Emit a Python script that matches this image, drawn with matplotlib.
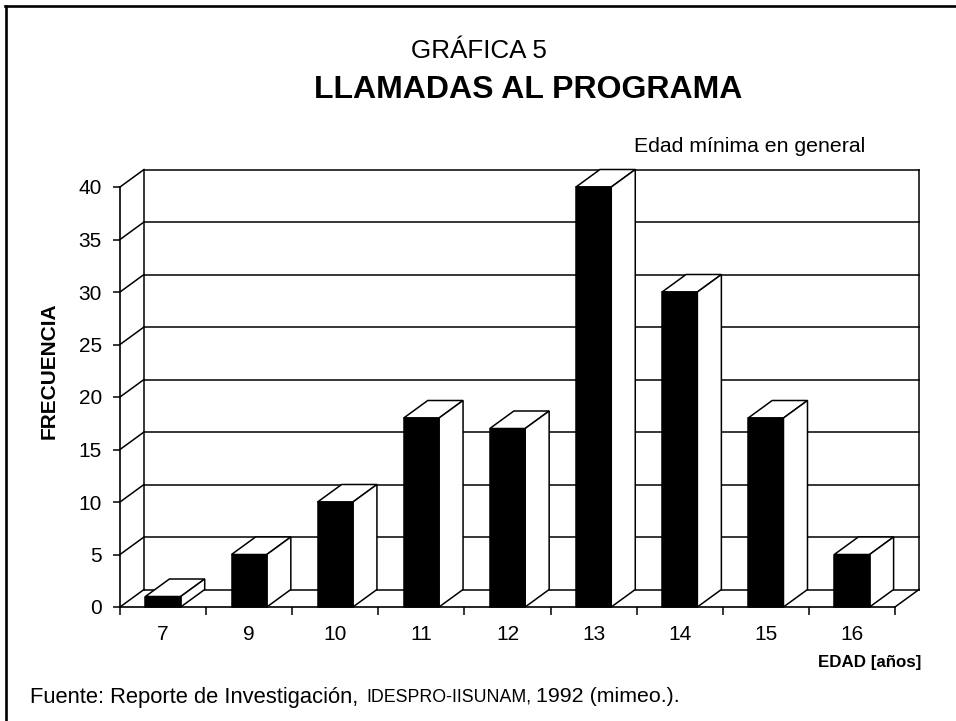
import matplotlib
matplotlib.use("Agg")
import matplotlib.pyplot as plt
from matplotlib.patches import Polygon, Rectangle

plt.rcParams['font.family'] = ['Liberation Sans', 'DejaVu Sans']

# ---------------- DATA ----------------
edades = ['7', '9', '10', '11', '12', '13', '14', '15', '16']
frecuencia = [1, 5, 10, 18, 17, 40, 30, 18, 5]
y_ticks = [0, 5, 10, 15, 20, 25, 30, 35, 40]
# --------------------------------------

W, H = 956, 721
DX = 24 / 86.1    # depth of the 3D box, in category units
DY = 17.5 / 10.5  # same, in value units
BAR_W = 0.41

fig = plt.figure(figsize=(W / 100, H / 100), dpi=100, facecolor='white')
# axes span exactly the front plane of the box
ax = fig.add_axes([120 / W, 1 - 607 / H, 775 / W, 420 / H])
ax.set_xlim(0, len(edades))
ax.set_ylim(0, 40)
ax.patch.set_visible(False)
for s in ['top', 'right']:
    ax.spines[s].set_visible(False)
for s in ['left', 'bottom']:
    ax.spines[s].set_linewidth(1.2)

n = len(edades)
lw = 1.1

# back wall, floor and the diagonals from the axis
for v in y_ticks:
    ax.plot([DX, n + DX], [v + DY, v + DY], color='black', lw=lw, clip_on=False, zorder=1)
    ax.plot([0, DX], [v, v + DY], color='black', lw=lw, clip_on=False, zorder=1)
ax.plot([DX, DX], [DY, 40 + DY], color='black', lw=lw, clip_on=False, zorder=1)
ax.plot([n + DX, n + DX], [DY, 40 + DY], color='black', lw=lw, clip_on=False, zorder=1)
ax.plot([n, n + DX], [0, DY], color='black', lw=lw, clip_on=False, zorder=1)

# bars: top, side, then the black front
for i, v in enumerate(frecuencia):
    x0 = i + 0.5 - BAR_W / 2
    x1 = x0 + BAR_W
    ax.add_patch(Polygon([(x0, v), (x1, v), (x1 + DX, v + DY), (x0 + DX, v + DY)],
                         fc='white', ec='black', lw=lw, clip_on=False, zorder=2))
    ax.add_patch(Polygon([(x1, 0), (x1 + DX, DY), (x1 + DX, v + DY), (x1, v)],
                         fc='white', ec='black', lw=lw, clip_on=False, zorder=2))
    ax.add_patch(Rectangle((x0, 0), BAR_W, v, fc='black', ec='black', lw=lw,
                           clip_on=False, zorder=3))

ax.set_yticks(y_ticks)
ax.set_xticks(range(n + 1))
ax.set_xticklabels([])
ax.set_xticks([i + 0.5 for i in range(n)], minor=True)
ax.set_xticklabels(edades, minor=True, fontsize=15)
ax.tick_params(axis='x', which='minor', length=0, pad=13)
ax.tick_params(axis='x', which='major', length=6, width=1.1)
ax.tick_params(axis='y', length=5, width=1.1, labelsize=15, pad=8)

fig.text(49 / W, 1 - 371 / H, 'FRECUENCIA', fontsize=15, fontweight='bold',
         rotation=90, ha='center', va='center')
fig.text(479 / W, 1 - 51 / H, 'GRÁFICA 5', fontsize=18.7, ha='center', va='center')
fig.text(528 / W, 1 - 90 / H, 'LLAMADAS AL PROGRAMA', fontsize=23, fontweight='bold',
         ha='center', va='center')
fig.text(749.5 / W, 1 - 147 / H, 'Edad mínima en general', fontsize=15.3, ha='center', va='center')
fig.text(921 / W, 1 - 663 / H, 'EDAD [años]', fontsize=12.2, fontweight='bold', ha='right', va='center')
fig.text(30 / W, 1 - 697 / H, 'Fuente: Reporte de Investigación,', fontsize=15.8, ha='left', va='center')
fig.text(366 / W, 1 - 697 / H, 'IDESPRO-IISUNAM,', fontsize=12.8, ha='left', va='center')
fig.text(536 / W, 1 - 697 / H, '1992 (mimeo.).', fontsize=15.4, ha='left', va='center')

# page frame
fig.add_artist(plt.Line2D([6 / W, 6 / W], [0, 1 - 6 / H], color='black', lw=1.9))
fig.add_artist(plt.Line2D([5.3 / W, 1], [1 - 6 / H, 1 - 6 / H], color='black', lw=1.9))

fig.savefig('out.png', dpi=100)
